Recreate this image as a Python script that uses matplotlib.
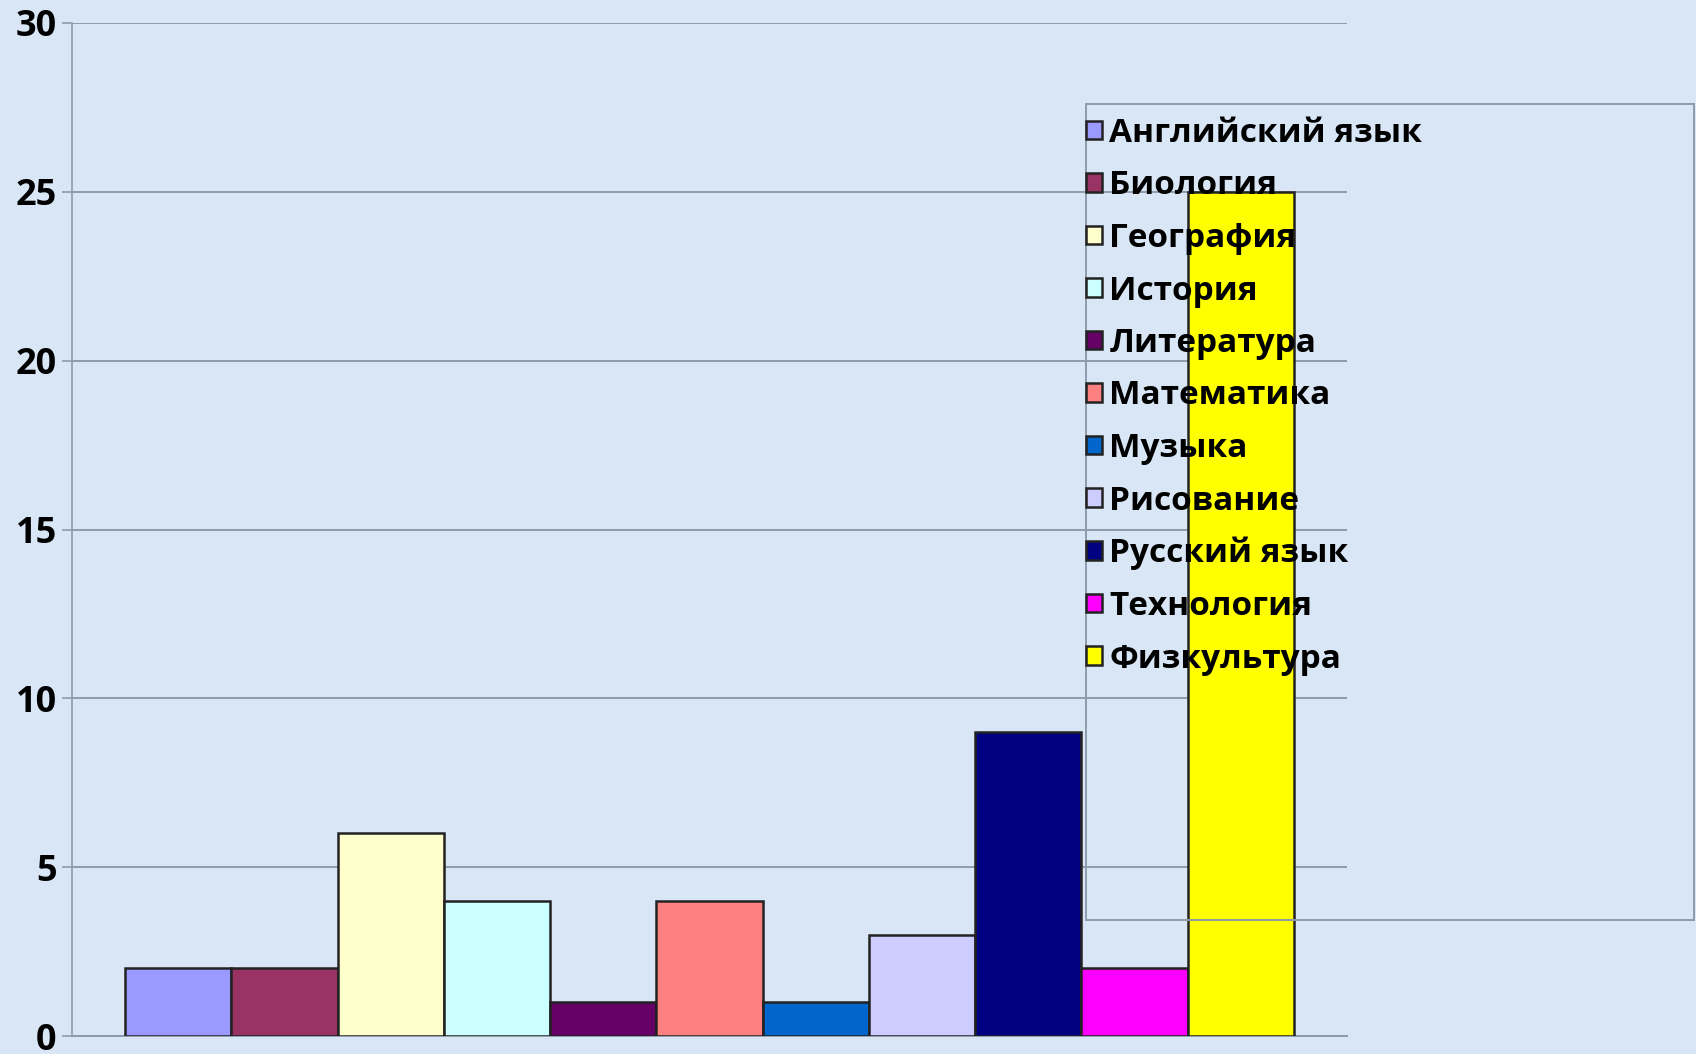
import matplotlib
matplotlib.use("Agg")
import matplotlib.pyplot as plt
from matplotlib.patches import Rectangle

# --- data ---
subjects = ["Английский язык", "Биология", "География", "История", "Литература",
            "Математика", "Музыка", "Рисование", "Русский язык", "Технология",
            "Физкультура"]
counts = [2, 2, 6, 4, 1, 4, 1, 3, 9, 2, 25]
colors = ["#9999FF", "#993366", "#FFFFCC", "#CCFFFF", "#660066", "#FF8080",
          "#0066CC", "#CCCCFF", "#000080", "#FF00FF", "#FFFF00"]
yticks = [0, 5, 10, 15, 20, 25, 30]

plt.rcParams['font.family'] = ['Open Sans', 'DejaVu Sans']

W, H = 1696, 1054
bg = "#d8e6f5"
fig = plt.figure(figsize=(W / 100, H / 100), dpi=100, facecolor=bg)

# plot area in pixels of the figure
left, right, top, bottom = 72, 1347, 23, 1036
ax = fig.add_axes([left / W, 1 - bottom / H, (right - left) / W, (bottom - top) / H])
ax.set_facecolor("none")

grid_c = "#8d9baa"
handles = []
for i, (name, v, c) in enumerate(zip(subjects, counts, colors)):
    b = ax.bar(i, v, width=1.0, color=c, edgecolor="#222222", linewidth=1.8,
               label=name, zorder=3)
    handles.append(b)

ax.set_xlim(-1, len(subjects))
ax.set_ylim(0, 30)
ax.set_yticks(yticks)
ax.set_yticklabels([str(t) for t in yticks], fontsize=26, fontweight="bold")
ax.tick_params(axis="y", length=7, width=1.2, color=grid_c, pad=4)
ax.set_xticks([])
ax.yaxis.grid(True, color=grid_c, linewidth=1.4, zorder=0)
ax.set_axisbelow(True)
for s in ["top", "right"]:
    ax.spines[s].set_visible(False)
ax.spines["left"].set_color(grid_c)
ax.spines["left"].set_linewidth(1.2)
ax.spines["bottom"].set_color(grid_c)
ax.spines["bottom"].set_linewidth(1.4)

# legend box (extends to the right edge of the picture)
lx0, ly0, lx1, ly1 = 1086, 104, 1694, 920
fig.patches.append(Rectangle((lx0 / W, 1 - ly1 / H), (lx1 - lx0) / W, (ly1 - ly0) / H,
                             transform=fig.transFigure, facecolor="none",
                             edgecolor=grid_c, linewidth=1.4, zorder=5))

fs = 24
leg = fig.legend(handles=handles, labels=subjects, loc="upper left",
                 bbox_to_anchor=(lx0 / W, 1 - 117 / H), frameon=False,
                 prop={"size": fs, "weight": "bold"}, borderpad=0,
                 borderaxespad=0, handlelength=0.48, handleheight=0.48,
                 handletextpad=0.22, labelspacing=0.585)
leg.set_zorder(6)

fig.savefig("out.png", dpi=100, facecolor=bg)
